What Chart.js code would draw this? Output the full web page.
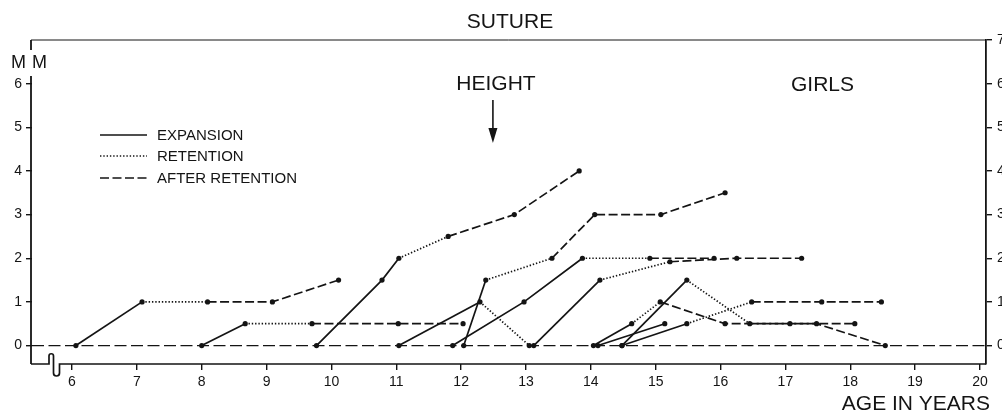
<!DOCTYPE html>
<html>
<head>
<meta charset="utf-8">
<title>Suture - girls</title>
<script src="https://cdn.jsdelivr.net/npm/chart.js@4.4.0/dist/chart.umd.min.js"></script>
<style>
  html, body { margin: 0; padding: 0; background: #fff; overflow: hidden; }
  #wrap { width: 1002px; height: 414px; position: relative; }
</style>
</head>
<body>
<div id="wrap"><canvas id="sutureChart"></canvas></div>
<script>
// age in years / suture width in mm, one curve per girl
// segment codes: E = expansion, R = retention, A = after retention
const ageA = [6.06, 7.08, 8.09, 9.09, 10.11];
const mmA  = [0, 1, 1, 1, 1.5];
const segA = ['E', 'R', 'A', 'A'];

const ageB = [8.0, 8.67, 9.70, 11.03, 12.03];
const mmB  = [0, 0.5, 0.5, 0.5, 0.5];
const segB = ['E', 'R', 'A', 'A'];

const ageC = [9.77, 10.78, 11.04, 11.80, 12.82, 13.82];
const mmC  = [0, 1.5, 2.0, 2.5, 3.0, 4.0];
const segC = ['E', 'E', 'R', 'A', 'A'];

const ageD = [11.04, 12.29, 13.05];
const mmD  = [0, 1.0, 0];
const segD = ['E', 'R'];

const ageE = [13.12, 14.14, 15.22, 16.25, 17.25];
const mmE  = [0, 1.5, 1.92, 2.0, 2.0];
const segE = ['E', 'R', 'A', 'A'];

const ageF = [11.87, 12.97, 13.87, 14.91, 15.90];
const mmF  = [0, 1.0, 2.0, 2.0, 2.0];
const segF = ['E', 'E', 'R', 'A'];

const ageG = [14.04, 14.63, 15.07, 16.07, 17.07, 18.07];
const mmG  = [0, 0.5, 1.0, 0.5, 0.5, 0.5];
const segG = ['E', 'R', 'A', 'A', 'A'];

const ageH = [14.11, 15.14];
const mmH  = [0, 0.5];
const segH = ['E'];

const ageI = [14.48, 15.48, 16.48, 17.56, 18.48];
const mmI  = [0, 0.5, 1.0, 1.0, 1.0];
const segI = ['E', 'R', 'A', 'A'];

const ageJ = [14.48, 15.48, 16.45, 17.48, 18.54];
const mmJ  = [0, 1.5, 0.5, 0.5, 0];
const segJ = ['E', 'R', 'A', 'A'];

const ageK = [12.04, 12.38, 13.40, 14.06, 15.08, 16.07];
const mmK  = [0, 1.5, 2.0, 3.0, 3.0, 3.5];
const segK = ['E', 'R', 'A', 'A', 'A'];

const ageTicks = [6, 7, 8, 9, 10, 11, 12, 13, 14, 15, 16, 17, 18, 19, 20];
const mmTicks = [0, 1, 2, 3, 4, 5, 6];
const mmTicksRight = [0, 1, 2, 3, 4, 5, 6, 7];
const heightAge = 12.49;   // arrow "HEIGHT"

const xMin = 5.383, xMax = 20.093;
const yMin = -0.423, yMax = 7;
const ink = '#141414';
const FONT = '"Liberation Sans", Arial, sans-serif';

const dashes = { E: [], R: [1.4, 1.9], A: [9, 3.5] };

function toPoints(ages, mm) {
  return ages.map((a, i) => ({ x: a, y: mm[i] }));
}

const curves = [
  [ageA, mmA, segA], [ageB, mmB, segB], [ageC, mmC, segC], [ageD, mmD, segD],
  [ageE, mmE, segE], [ageF, mmF, segF], [ageG, mmG, segG], [ageH, mmH, segH],
  [ageI, mmI, segI], [ageJ, mmJ, segJ], [ageK, mmK, segK]
];

const datasets = [{
  // zero line
  data: [{ x: xMin, y: 0 }, { x: xMax, y: 0 }],
  borderColor: ink,
  borderWidth: 1.3,
  borderDash: [12, 4.5],
  pointRadius: 0
}];
curves.forEach(c => {
  const segs = c[2];
  datasets.push({
    data: toPoints(c[0], c[1]),
    borderColor: ink,
    borderWidth: 1.7,
    pointRadius: 2.6,
    pointBackgroundColor: ink,
    pointBorderWidth: 0,
    segment: { borderDash: ctx => dashes[segs[ctx.p0DataIndex]] }
  });
});

const decor = {
  id: 'decor',
  afterDraw(chart) {
    const { ctx, chartArea: a, scales } = chart;
    ctx.save();
    ctx.strokeStyle = ink;
    ctx.fillStyle = ink;

    // thin top frame
    ctx.lineWidth = 1;
    ctx.beginPath();
    ctx.moveTo(a.left - 1, a.top);
    ctx.lineTo(a.right, a.top);
    ctx.stroke();

    // left axis, interrupted where "MM" sits
    ctx.lineWidth = 1.8;
    ctx.beginPath();
    ctx.moveTo(a.left - 1, a.top);
    ctx.lineTo(a.left - 1, a.top + 10);
    ctx.moveTo(a.left - 1, 76);
    ctx.lineTo(a.left - 1, a.bottom);
    ctx.stroke();

    // x axis with the break near the origin
    const b = a.bottom;
    ctx.lineWidth = 1.7;
    ctx.beginPath();
    ctx.moveTo(a.left - 1, b);
    ctx.lineTo(a.left + 17, b);
    ctx.lineTo(a.left + 17, b - 8);
    ctx.arc(a.left + 19.25, b - 8, 2.25, Math.PI, 0, false);
    ctx.lineTo(a.left + 21.5, b + 9);
    ctx.arc(a.left + 24.5, b + 9, 3, Math.PI, 0, true);
    ctx.lineTo(a.left + 27.5, b);
    ctx.lineTo(a.right, b);
    ctx.stroke();

    // texts
    ctx.textBaseline = 'alphabetic';
    ctx.font = '21px ' + FONT;
    ctx.textAlign = 'center';
    ctx.fillText('SUTURE', 510, 28);
    ctx.fillText('HEIGHT', 496, 90);
    ctx.textAlign = 'left';
    ctx.fillText('GIRLS', 791, 91);
    ctx.textAlign = 'right';
    ctx.fillText('AGE IN YEARS', 990, 410);
    ctx.font = '18px ' + FONT;
    ctx.textAlign = 'left';
    ctx.fillText('M', 11, 68);
    ctx.fillText('M', 32, 68);

    // arrow under HEIGHT
    const ax = scales.x.getPixelForValue(heightAge);
    ctx.lineWidth = 1.6;
    ctx.beginPath();
    ctx.moveTo(ax, 100);
    ctx.lineTo(ax, 130);
    ctx.stroke();
    ctx.beginPath();
    ctx.moveTo(ax - 4.5, 128);
    ctx.lineTo(ax + 4.5, 128);
    ctx.lineTo(ax, 143);
    ctx.closePath();
    ctx.fill();

    // legend
    const rows = [['E', 'EXPANSION', 135], ['R', 'RETENTION', 156], ['A', 'AFTER RETENTION', 178]];
    ctx.font = '15px ' + FONT;
    ctx.textAlign = 'left';
    ctx.textBaseline = 'middle';
    rows.forEach(r => {
      ctx.setLineDash(dashes[r[0]]);
      ctx.lineWidth = 1.6;
      ctx.beginPath();
      ctx.moveTo(100, r[2]);
      ctx.lineTo(147, r[2]);
      ctx.stroke();
      ctx.setLineDash([]);
      ctx.fillText(r[1], 157, r[2] + 1);
    });
    ctx.restore();
  }
};

new Chart(document.getElementById('sutureChart'), {
  type: 'line',
  data: { datasets: datasets },
  plugins: [decor],
  options: {
    responsive: true,
    maintainAspectRatio: false,
    animation: false,
    layout: { padding: { top: 40 } },
    plugins: { legend: { display: false }, tooltip: { enabled: false } },
    elements: { line: { tension: 0 } },
    scales: {
      x: {
        type: 'linear', min: xMin, max: xMax,
        afterFit: s => { s.height = 50; },
        afterBuildTicks: s => { s.ticks = ageTicks.map(v => ({ value: v })); },
        grid: { drawOnChartArea: false, drawTicks: true, tickLength: 6, color: ink, lineWidth: 1.4 },
        border: { display: false },
        ticks: { color: ink, padding: 4, maxRotation: 0, font: { family: FONT, size: 14 } }
      },
      y: {
        position: 'left', min: yMin, max: yMax,
        afterFit: s => { s.width = 32; },
        afterBuildTicks: s => { s.ticks = mmTicks.map(v => ({ value: v })); },
        grid: { drawOnChartArea: false, drawTicks: true, tickLength: 6, color: ink, lineWidth: 1.4 },
        border: { display: false },
        ticks: { color: ink, padding: 4, font: { family: FONT, size: 14 } }
      },
      y2: {
        position: 'right', min: yMin, max: yMax,
        afterFit: s => { s.width = 16; },
        afterBuildTicks: s => { s.ticks = mmTicksRight.map(v => ({ value: v })); },
        grid: { drawOnChartArea: false, drawTicks: true, tickLength: 6, color: ink, lineWidth: 1.4 },
        border: { display: true, color: ink, width: 1.8 },
        ticks: { color: ink, padding: 5, font: { family: FONT, size: 14 } }
      }
    }
  }
});
</script>
</body>
</html>
